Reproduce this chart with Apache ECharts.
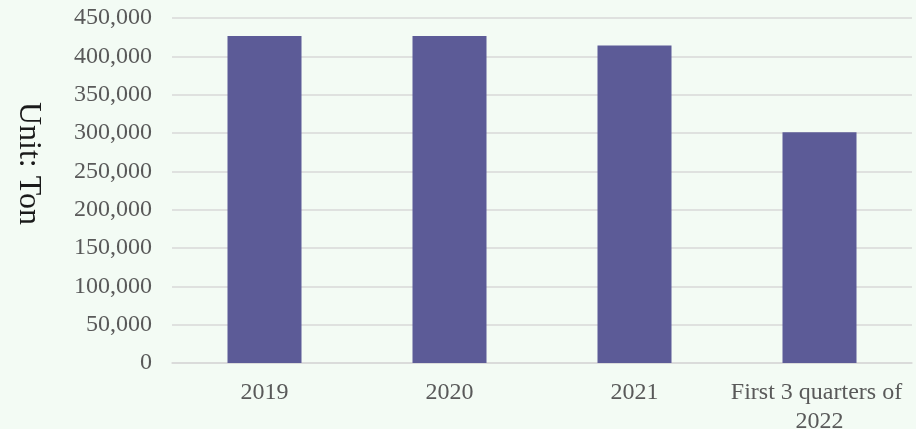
<!DOCTYPE html>
<html>
<head>
<meta charset="utf-8">
<script src="https://cdn.jsdelivr.net/npm/echarts@6/dist/echarts.min.js"></script>
<style>
  html, body { margin: 0; padding: 0; background: #f3fbf4; }
  #chart { width: 916px; height: 429px; }
</style>
</head>
<body>
<div id="chart"></div>
<script>
// Annual volume, tons
var categories = ['2019', '2020', '2021', 'First 3 quarters of 2022'];
var volumes = [426500, 426500, 414000, 301000];
var yTicks = { min: 0, max: 450000, interval: 50000 };
var unitLabel = 'Unit: Ton';

var serif = "'Liberation Serif', 'Times New Roman', serif";

var chart = echarts.init(document.getElementById('chart'), null, { renderer: 'canvas' });
chart.setOption({
  backgroundColor: '#f3fbf4',
  animation: false,
  grid: {
    left: 172, right: 4, top: 18, bottom: 66,
    containLabel: false,
    outerBoundsMode: 'none'
  },
  xAxis: {
    type: 'category',
    data: categories,
    axisLine: { show: true, lineStyle: { color: '#d9d9d9', width: 1.5 } },
    axisTick: { show: false },
    axisLabel: {
      color: '#595959',
      fontFamily: serif,
      fontSize: 24,
      margin: 15,
      lineHeight: 29,
      width: 186,
      overflow: 'break',
      interval: 0
    }
  },
  yAxis: {
    type: 'value',
    min: yTicks.min,
    max: yTicks.max,
    interval: yTicks.interval,
    name: unitLabel,
    nameLocation: 'middle',
    nameRotate: -90,
    nameGap: 128,
    nameTextStyle: {
      color: '#1a1a1a',
      fontFamily: serif,
      fontSize: 32,
      padding: [0, 54, 0, 0]
    },
    axisLine: { show: false },
    axisTick: { show: false },
    splitLine: { lineStyle: { color: '#d9d9d9', width: 1.5 } },
    axisLabel: {
      color: '#595959',
      fontFamily: serif,
      fontSize: 24,
      margin: 20,
      formatter: function (v) { return v.toLocaleString('en-US'); }
    }
  },
  series: [{
    type: 'bar',
    data: volumes,
    barWidth: '40%',
    itemStyle: { color: '#5c5b97' }
  }]
});
</script>
</body>
</html>
